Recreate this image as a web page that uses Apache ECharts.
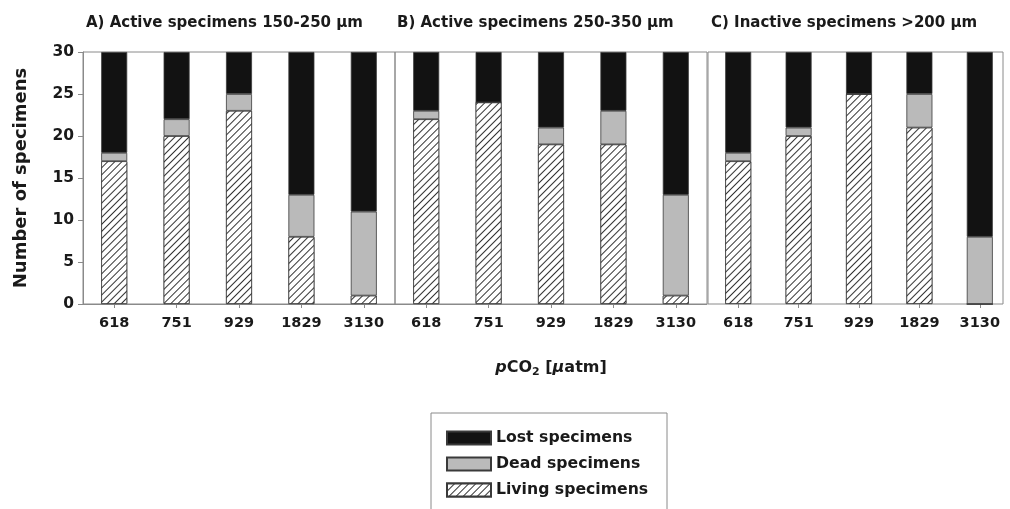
<!DOCTYPE html>
<html>
<head>
<meta charset="utf-8">
<script src="https://cdn.jsdelivr.net/npm/echarts@6/dist/echarts.min.js"></script>
<style>html,body{margin:0;padding:0;background:#fff;}#c{width:1010px;height:509px;}</style>
</head>
<body>
<div id="c"></div>
<script>
// ---- data ----
const categories = ['618', '751', '929', '1829', '3130'];
const panelTitles = ['A) Active specimens 150-250 µm', 'B) Active specimens 250-350 µm', 'C) Inactive specimens >200 µm'];
const livingA = [17, 20, 23, 8, 1];
const deadA   = [1, 2, 2, 5, 10];
const lostA   = [12, 8, 5, 17, 19];
const livingB = [22, 24, 19, 19, 1];
const deadB   = [1, 0, 2, 4, 12];
const lostB   = [7, 6, 9, 7, 17];
const livingC = [17, 20, 25, 21, 0];
const deadC   = [1, 1, 0, 4, 8];
const lostC   = [12, 9, 5, 5, 22];
const yMin = 0, yMax = 30, yInterval = 5;
const seriesNames = ['Lost specimens', 'Dead specimens', 'Living specimens'];

// ---- styles ----
const FONT = 'DejaVu Sans';
const TXT = '#1a1a1a';
const FRAME = '#8a8a8a';
const BORDER = '#3a3a3a';
const hatch = {
  symbol: 'rect', symbolSize: 1, color: '#333333', backgroundColor: '#ffffff',
  dashArrayX: [1, 0], dashArrayY: [1, 4], rotation: -Math.PI / 4
};
const styles = {
  'Living specimens': { color: '#ffffff', borderColor: BORDER, borderWidth: 0.8, decal: hatch },
  'Dead specimens':   { color: '#bababa', borderColor: BORDER, borderWidth: 0.8 },
  'Lost specimens':   { color: '#121212', borderColor: BORDER, borderWidth: 0.8 }
};

const grids = [
  { left: 83, top: 52, width: 312, height: 252, show: true, borderColor: FRAME, borderWidth: 1 },
  { left: 395, top: 52, width: 312, height: 252, show: true, borderColor: FRAME, borderWidth: 1 },
  { left: 708, top: 52, width: 311.5, height: 252, show: false }
];

function xAxis(i) {
  const ax = {
    type: 'category', gridIndex: i, data: categories,
    axisLine: { show: i !== 2, lineStyle: { color: FRAME, width: 1 } },
    axisTick: { show: true, alignWithLabel: true, length: 4, lineStyle: { color: FRAME } },
    axisLabel: { color: TXT, fontFamily: FONT, fontWeight: 'bold', fontSize: 14.5, margin: 12 }
  };
  if (i === 1) {
    ax.name = '{i|p}{b|CO}{s|2}{b| [}{i|µ}{b|atm]}';
    ax.nameLocation = 'middle';
    ax.nameGap = 54;
    ax.nameTextStyle = {
      color: TXT, fontFamily: FONT, fontWeight: 'bold', fontSize: 16,
      rich: {
        i: { fontFamily: FONT, fontStyle: 'italic', fontWeight: 'bold', fontSize: 16, color: TXT, lineHeight: 20 },
        b: { fontFamily: FONT, fontWeight: 'bold', fontSize: 16, color: TXT, lineHeight: 20 },
        s: { fontFamily: FONT, fontWeight: 'bold', fontSize: 11, color: TXT, lineHeight: 20, padding: [9, 0, 0, 0] }
      }
    };
  }
  return ax;
}
function yAxis(i) {
  const ax = {
    type: 'value', gridIndex: i, min: yMin, max: yMax, interval: yInterval,
    splitLine: { show: false },
    axisLine: { show: i === 0, lineStyle: { color: FRAME } },
    axisTick: { show: i === 0, length: 5, lineStyle: { color: FRAME } },
    axisLabel: { show: i === 0, color: TXT, fontFamily: FONT, fontWeight: 'bold', fontSize: 15.5, margin: 9 }
  };
  if (i === 0) {
    ax.name = 'Number of specimens';
    ax.nameLocation = 'middle';
    ax.nameGap = 53;
    ax.nameTextStyle = { color: TXT, fontFamily: FONT, fontWeight: 'bold', fontSize: 18 };
  }
  return ax;
}

const panelData = [
  { 'Living specimens': livingA, 'Dead specimens': deadA, 'Lost specimens': lostA },
  { 'Living specimens': livingB, 'Dead specimens': deadB, 'Lost specimens': lostB },
  { 'Living specimens': livingC, 'Dead specimens': deadC, 'Lost specimens': lostC }
];
const series = [];
panelData.forEach((pd, i) => {
  ['Living specimens', 'Dead specimens', 'Lost specimens'].forEach(name => {
    series.push({
      type: 'bar', name: name, xAxisIndex: i, yAxisIndex: i, stack: 'p' + i,
      barWidth: 26, data: pd[name], itemStyle: styles[name],
      emphasis: { disabled: true }, animation: false
    });
  });
});

const titleLefts = [86, 397, 711];
const option = {
  animation: false,
  backgroundColor: '#ffffff',
  title: panelTitles.map((t, i) => ({
    text: t, left: titleLefts[i], top: 14, padding: 0,
    textStyle: { color: TXT, fontFamily: FONT, fontWeight: 'bold', fontSize: 15, lineHeight: 18 }
  })),
  grid: grids,
  xAxis: [0, 1, 2].map(xAxis),
  yAxis: [0, 1, 2].map(yAxis),
  legend: {
    orient: 'vertical', left: 446, top: 430, padding: 0,
    data: seriesNames, itemWidth: 44, itemHeight: 13, itemGap: 10, itemTextGap: 9,
    icon: 'rect', selectedMode: false,
    textStyle: { color: TXT, fontFamily: FONT, fontWeight: 'bold', fontSize: 15.7, lineHeight: 16 }
  },
  graphic: [
    { type: 'rect', shape: { x: 431, y: 413, width: 236, height: 120 },
      style: { fill: 'none', stroke: FRAME, lineWidth: 1 }, z: 0, silent: true },
    { type: 'rect', shape: { x: 708, y: 52, width: 295, height: 252 },
      style: { fill: 'none', stroke: FRAME, lineWidth: 1 }, z: 0, silent: true }
  ],
  series: series
};
const chart = echarts.init(document.getElementById('c'), null, { renderer: 'canvas' });
chart.setOption(option);
</script>
</body>
</html>
